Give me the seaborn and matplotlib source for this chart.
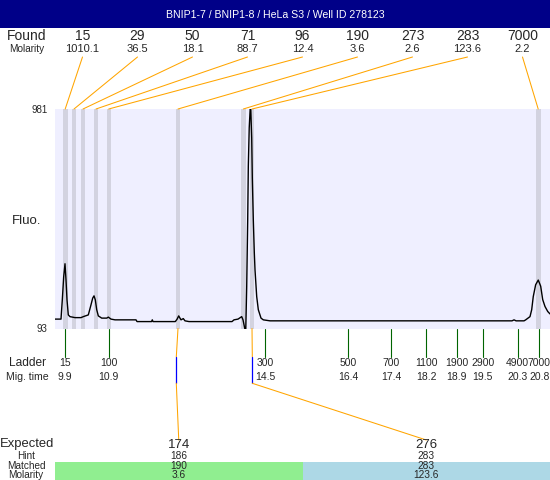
import matplotlib
matplotlib.use("Agg")
import matplotlib.pyplot as plt
from matplotlib.patches import Rectangle
import seaborn as sns
import pandas as pd

# ---------------- data ----------------
title = "BNIP1-7 / BNIP1-8 / HeLa S3 / Well ID 278123"
found_sizes = ["15", "29", "50", "71", "96", "190", "273", "283", "7000"]
found_molarity = ["1010.1", "36.5", "18.1", "88.7", "12.4", "3.6", "2.6", "123.6", "2.2"]
band_start = [9.840, 10.054, 10.261, 10.560, 10.852, 12.445, 13.940, 14.147, 20.716]
band_end = [9.955, 10.146, 10.353, 10.652, 10.944, 12.537, 14.048, 14.239, 20.831]

ladder_sizes = ["15", "100", "300", "500", "700", "1100", "1900", "2900", "4900", "7000"]
ladder_times = [9.9, 10.9, 14.5, 16.4, 17.4, 18.2, 18.9, 19.5, 20.3, 20.8]

expected = ["174", "276"]
hint = ["186", "283"]
matched = ["190", "283"]
matched_molarity = ["3.6", "123.6"]
hint_times = [12.452, 14.200]

y_ticks = [93, 981]

trace_time = [9.663, 9.801, 9.831, 9.863, 9.893, 9.916, 9.939, 9.969, 10.008, 10.123,
              10.261, 10.314, 10.429, 10.491, 10.530, 10.560, 10.590, 10.622, 10.659, 10.737,
              10.852, 10.889, 10.951, 11.043, 11.526, 11.549, 11.882, 11.900, 11.917, 12.429,
              12.468, 12.507, 12.560, 12.613, 12.652, 12.744, 13.733, 13.779, 13.871, 13.956,
              13.986, 14.048, 14.071, 14.094, 14.108, 14.129, 14.159, 14.186, 14.200, 14.223,
              14.246, 14.262, 14.301, 14.338, 14.400, 14.453, 14.607, 20.172, 20.218, 20.264,
              20.448, 20.486, 20.585, 20.624, 20.660, 20.715, 20.775, 20.831, 20.877, 20.930,
              20.992, 21.045]
trace_fluo = [131, 131, 209, 303, 355, 290, 209, 148, 141, 137,
              137, 141, 148, 189, 216, 225, 209, 169, 144, 135,
              135, 139, 131, 128, 128, 121, 121, 128, 121, 121,
              130, 144, 128, 133, 124, 121, 121, 128, 131, 141,
              128, 75, 263, 532, 750, 905, 1010, 864, 702, 532,
              399, 330, 222, 169, 135, 128, 124, 124, 128, 124,
              124, 128, 141, 169, 222, 270, 289, 264, 210, 182,
              162, 152]

# ---------------- style ----------------
sns.set_theme(style="white")
plt.rcParams['font.family'] = ['Liberation Sans', 'DejaVu Sans']

W, H = 550, 480
fig = plt.figure(figsize=(5.5, 4.8), dpi=100)
fig.patch.set_facecolor("white")

L, T, R, B = 55, 109, 550, 328.5
ax = fig.add_axes([L / W, 1 - B / H, (R - L) / W, (B - T) / H])
ax.set_facecolor("#EFEFFF")
for s in ax.spines.values():
    s.set_visible(False)

for s, e in zip(band_start, band_end):
    ax.axvspan(s, e, color="#D3D3E0", lw=0, zorder=1)

df = pd.DataFrame({"time": trace_time, "fluo": trace_fluo})
sns.lineplot(data=df, x="time", y="fluo", ax=ax, color="black", lw=1.0,
             sort=False, estimator=None, zorder=3)
ax.set_xlim(9.663, 21.045)
ax.set_ylim(y_ticks[0], y_ticks[1])
ax.set_xticks([])
ax.set_yticks(y_ticks)
ax.set_yticklabels([str(v) for v in y_ticks], fontsize=7)
ax.tick_params(axis="y", length=0, pad=5.4)
ax.set_xlabel("")
ax.set_ylabel("")

# overlay in pixel coordinates
ov = fig.add_axes([0, 0, 1, 1], zorder=5)
ov.set_xlim(0, W)
ov.set_ylim(H, 0)
ov.axis("off")
ov.patch.set_alpha(0)


def tx(t):
    disp = ax.transData.transform((t, y_ticks[0]))
    return ov.transData.inverted().transform(disp)[0]


ORANGE = "#FFA500"
# title bar
ov.add_patch(Rectangle((0, 0), W, 28, color="#000088", lw=0))
ov.text(W / 2, 14.5, title, color="white", ha="center", va="center", fontsize=7.6)

# found row
ov.text(27, 36, "Found", ha="center", va="center", fontsize=10)
ov.text(27, 49, "Molarity", ha="center", va="center", fontsize=7.2)
for i, (sz, mol) in enumerate(zip(found_sizes, found_molarity)):
    lx = 82.5 + 55.0 * i
    ov.text(lx, 36, sz, ha="center", va="center", fontsize=10)
    ov.text(lx, 49, mol, ha="center", va="center", fontsize=8)
    cx = tx((band_start[i] + band_end[i]) / 2)
    ov.plot([lx, cx], [57, T], color=ORANGE, lw=0.75)

# Fluo label
ov.text(26.5, 220.7, "Fluo.", ha="center", va="center", fontsize=9.5)

# ladder
ov.text(27, 363.3, "Ladder", ha="center", va="center", fontsize=8.6)
ov.text(27, 376.7, "Mig. time", ha="center", va="center", fontsize=7.6)
for sz, t in zip(ladder_sizes, ladder_times):
    x = tx(t)
    ov.plot([x, x], [B, 356.5], color="#006400", lw=0.8)
    ov.text(x, 363.3, sz, ha="center", va="center", fontsize=7.5)
    ov.text(x, 376.7, f"{t:.1f}", ha="center", va="center", fontsize=7.5)

# matched connectors
col_w = (R - L) / len(expected)
for j, m in enumerate(matched):
    k = found_sizes.index(m)
    px = tx((band_start[k] + band_end[k]) / 2)
    hx = tx(hint_times[j])
    cx = L + (j + 0.5) * col_w
    ov.plot([px, hx], [B, 357], color=ORANGE, lw=0.75)
    ov.plot([hx, hx], [357, 383.3], color="#0000FF", lw=0.9)
    ov.plot([hx, cx], [383.3, 440], color=ORANGE, lw=0.75)

# lower table
table_colors = ["#90EE90", "#ADD8E6"]
for j in range(len(expected)):
    ov.add_patch(Rectangle((L + j * col_w, 462.0), col_w, H - 462.0,
                           color=table_colors[j], lw=0, zorder=0))
ov.text(27, 444.5, "Expected", ha="center", va="center", fontsize=9.4)
ov.text(26, 456, "Hint", ha="center", va="center", fontsize=7.2)
ov.text(26, 466, "Matched", ha="center", va="center", fontsize=7.2)
ov.text(26, 475.3, "Molarity", ha="center", va="center", fontsize=7.2)
for j in range(len(expected)):
    cx = L + (j + 0.5) * col_w
    ov.text(cx, 444.5, expected[j], ha="center", va="center", fontsize=9.5)
    ov.text(cx, 456, hint[j], ha="center", va="center", fontsize=7.3)
    ov.text(cx, 466, matched[j], ha="center", va="center", fontsize=7.3)
    ov.text(cx, 475.3, matched_molarity[j], ha="center", va="center", fontsize=7.3)

fig.savefig("out.png", dpi=100)
